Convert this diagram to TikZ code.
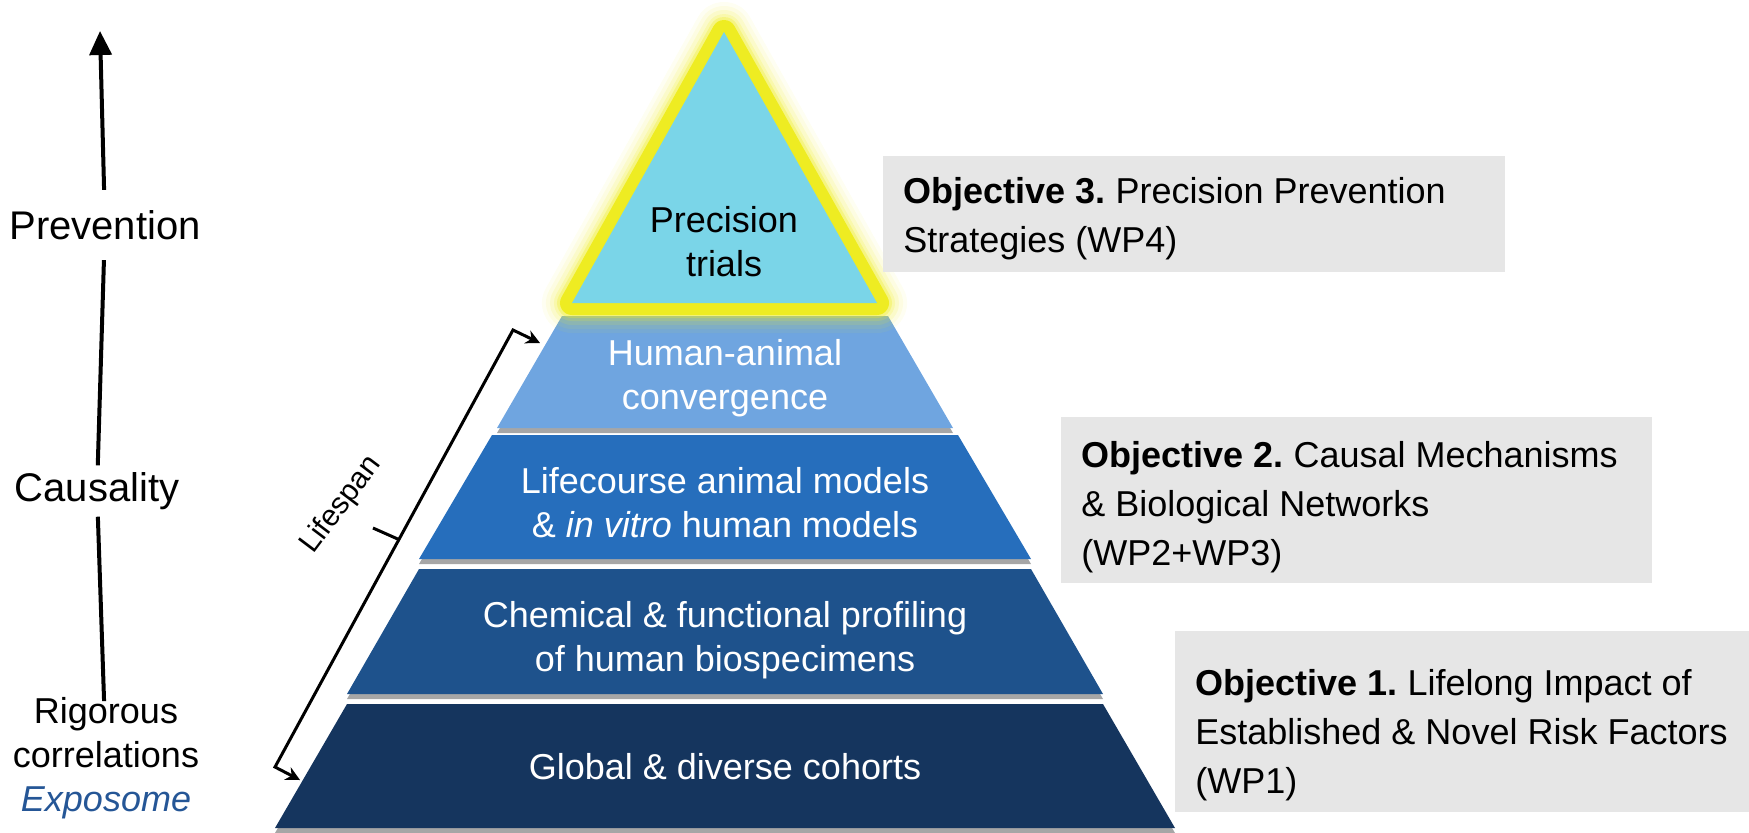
\documentclass[tikz,border=0pt]{standalone}
\usepackage{fontspec}
\setmainfont{Liberation Sans}
\frenchspacing
\usetikzlibrary{arrows.meta,shadows}

\definecolor{tipcyan}{RGB}{122,213,232}
\definecolor{glowyellow}{RGB}{238,236,34}
\definecolor{layertwo}{RGB}{111,165,224}
\definecolor{layerthree}{RGB}{38,110,188}
\definecolor{layerfour}{RGB}{30,82,140}
\definecolor{layerfive}{RGB}{21,53,94}
\definecolor{boxgray}{RGB}{230,230,230}
\definecolor{expblue}{RGB}{37,86,150}

\tikzset{
  layer/.style={fill=#1, drop shadow={shadow xshift=0pt, shadow yshift=-2.5pt, opacity=.35, fill=black}},
  laytext/.style={white, align=center, font=\fontsize{18}{22}\selectfont},
  objbox/.style={fill=boxgray, anchor=north west, inner sep=0pt},
  objtext/.style={anchor=west, align=left, inner sep=0pt, font=\fontsize{18}{24.5}\selectfont},
  sidetext/.style={align=center, font=\fontsize{20}{24}\selectfont},
  axisline/.style={line width=2pt},
  spanline/.style={line width=1.5pt}
}

\begin{document}
\begin{tikzpicture}[
  x={(0.5pt,0pt)},
  y={(0pt,-0.5pt)}
]
\useasboundingbox (0,0) rectangle (1749,832);

% pyramid layers, bottom up
\foreach \yt/\yb/\wt/\wb/\col in {704/828/378/450/layerfive,569/694/306/378/layerfour,435/559/233/306/layerthree,316/428/163/228/layertwo}
{
  \fill[layer=\col] (725-\wt,\yt) -- (725+\wt,\yt) -- (725+\wb,\yb) -- (725-\wb,\yb) -- cycle;
}

% top triangle with glow
\foreach \w/\o in {30/.06,26/.08,22/.12,18/.18,15/.3}
{
  \draw[glowyellow, line width=\w pt, opacity=\o, line join=round] (724,32) -- (572,303) -- (877,303) -- cycle;
}
\draw[glowyellow, line width=12pt, line join=round] (724,32) -- (572,303) -- (877,303) -- cycle;
\fill[tipcyan] (724,32) -- (572,303) -- (877,303) -- cycle;

\node[laytext, black] (trials) at (724,242) {Precision\\trials};
\node[laytext] (convergence) at (725,378) {Human-animal\\convergence};
\node[laytext] (models) at (725,503) {Lifecourse animal models\\\& \textit{in vitro} human models};
\node[laytext] (profiling) at (725,640) {Chemical \& functional profiling\\of human biospecimens};
\node[laytext] (cohorts) at (725,767) {Global \& diverse cohorts};

% objectives
\node[objbox, minimum width=311pt, minimum height=58pt] (box3) at (883,156) {};
\node[objtext] (obj3) at ([xshift=10pt,yshift=-2.2pt]box3.west)
  {\textbf{Objective 3.} Precision Prevention\\Strategies (WP4)};
\node[objbox, minimum width=295.5pt, minimum height=83pt] (box2) at (1061,417) {};
\node[objtext] (obj2) at ([xshift=10pt,yshift=-3.5pt]box2.west)
  {\textbf{Objective 2.} Causal Mechanisms\\\& Biological Networks\\(WP2+WP3)};
\node[objbox, minimum width=290pt, minimum height=90.5pt] (box1) at (1175,631) {};
\node[objtext] (obj1) at ([xshift=10pt,yshift=-6.7pt]box1.west)
  {\textbf{Objective 1.} Lifelong Impact of\\Established \& Novel Risk Factors\\(WP1)};

% left axis
\node[sidetext, inner ysep=10pt] (prev) at (105,225) {Prevention};
\node[sidetext] (caus) at (97,491) {Causality};
\node[sidetext, font=\fontsize{18}{22}\selectfont] (rig) at (106,758)
  {Rigorous\\correlations\\\textcolor{expblue}{\itshape Exposome}};
\coordinate (top) at (100,31);
\draw[axisline, shorten <=-5.5pt] (rig) -- (caus);
\draw[axisline] (caus) -- (prev);
\draw[axisline, -{Triangle[width=11pt,length=12pt]}] (prev) -- (top);

% lifespan bracket
\coordinate (spantop) at (540,343);
\coordinate (spanc1) at (513,330);
\coordinate (spanc2) at (275,767);
\coordinate (spanbot) at (300,780);
\coordinate (spanmid) at (400,540);
\draw[spanline, {Stealth[length=7pt,width=7pt]}-{Stealth[length=7pt,width=7pt]}]
  (spantop) -- (spanc1) -- (spanc2) -- (spanbot);
\draw[spanline] (spanmid) -- ++(-27,-12);
\node[rotate=53, font=\fontsize{15}{18}\selectfont] (lifespan) at (341,505) {Lifespan};
\end{tikzpicture}
\end{document}
